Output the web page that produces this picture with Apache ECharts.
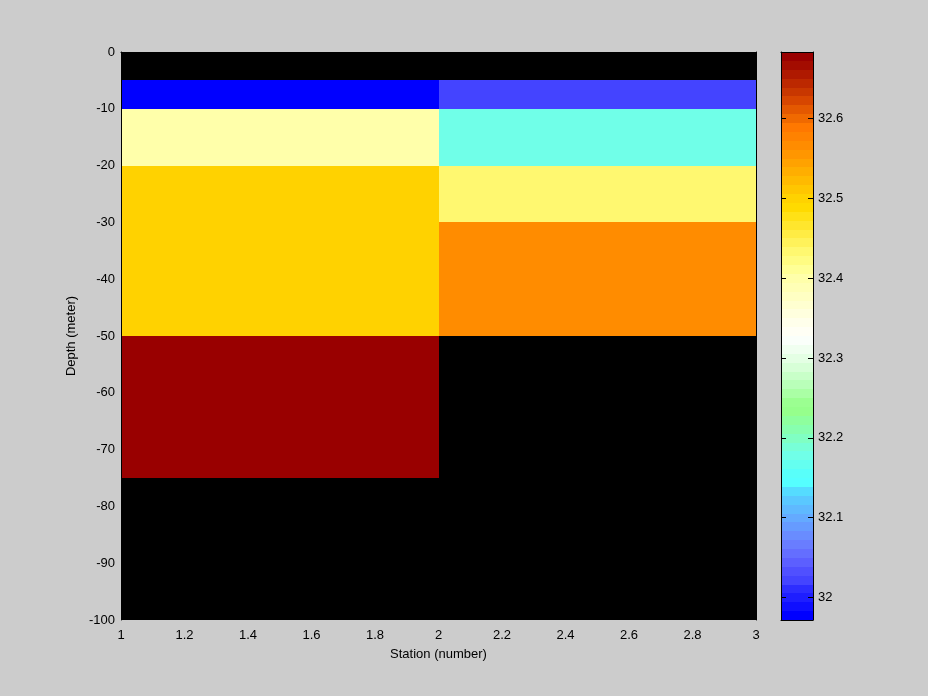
<!DOCTYPE html>
<html>
<head>
<meta charset="utf-8">
<script src="https://cdn.jsdelivr.net/npm/echarts@6/dist/echarts.min.js"></script>
<style>
html,body{margin:0;padding:0;background:#cccccc;}
#chart{width:928px;height:696px;}
</style>
</head>
<body>
<div id="chart"></div>
<script>
// ---- data ----
const stationEdges = [1, 2, 3];
const depthEdges = [0, -5, -10, -20, -30, -50, -75, -100];
// salinity per depth interval (null = no data)
const station1Salinity = [null, 31.972, 32.400, 32.500, 32.500, 32.683, null];
const station2Salinity = [null, 32.022, 32.178, 32.433, 32.566, null, null];
const xTickLabels = [1, 1.2, 1.4, 1.6, 1.8, 2, 2.2, 2.4, 2.6, 2.8, 3];
const colorbarTicks = [32, 32.1, 32.2, 32.3, 32.4, 32.5, 32.6];

// 64-entry colormap, bottom (low) to top (high)
const colormap = [
  '#0000ff','#0f0fff','#1e1eff','#2d2dff','#4444ff','#5050ff','#5c5fff','#646eff',
  '#697dff','#698cff','#669bff','#64aaff','#5fb9ff','#5ac8ff','#55dcff','#55ffff',
  '#58fffa','#64fff0','#70ffe8','#78ffd7','#80ffc3','#87ffaf','#8eff9e','#96ff8c',
  '#9bff91','#aaffa5','#b9ffb9','#c8ffc8','#d7ffd7','#e4ffe4','#f0fff0','#fafffa',
  '#fffff5','#ffffeb','#ffffde','#ffffd0','#ffffc3','#ffffb6','#ffffaa','#ffff96',
  '#fffc82','#fff870','#fff25a','#ffec44','#ffe62d','#ffe116','#ffda00','#ffd200',
  '#ffc600','#ffba00','#ffae00','#ffa200','#ff9600','#ff8c00','#ff8200','#ff7800',
  '#f06900','#e45800','#d74600','#c83700','#bc2800','#af1900','#a30c00','#990000'
];

// ---- derived ----
const allVals = station1Salinity.concat(station2Salinity).filter(v => v !== null);
const cmin = Math.min.apply(null, allVals);
const cmax = Math.max.apply(null, allVals);
const step = (cmax - cmin) / colormap.length;

const cells = [];
[station1Salinity, station2Salinity].forEach((arr, j) => {
  arr.forEach((v, k) => {
    if (v !== null) cells.push([stationEdges[j], stationEdges[j + 1], depthEdges[k], depthEdges[k + 1], v]);
  });
});
const bands = colormap.map((c, i) => [cmin + i * step, cmin + (i + 1) * step, i]);
const pieces = colormap.map((c, i) => {
  const p = { gte: cmin + i * step, color: c };
  if (i === colormap.length - 1) p.lte = cmax + 1e-9; else p.lt = cmin + (i + 1) * step;
  return p;
});

const font = { fontFamily: 'Liberation Sans', fontSize: 13, color: '#000' };

function snapRect(p0, p1) {
  const x0 = Math.round(Math.min(p0[0], p1[0])), x1 = Math.round(Math.max(p0[0], p1[0]));
  const y0 = Math.round(Math.min(p0[1], p1[1])), y1 = Math.round(Math.max(p0[1], p1[1]));
  return { x: x0, y: y0, width: x1 - x0, height: y1 - y0 };
}

const chart = echarts.init(document.getElementById('chart'), null, { renderer: 'canvas' });
chart.setOption({
  backgroundColor: '#cccccc',
  animation: false,
  grid: [
    { left: 121, top: 52, width: 635, height: 568, show: true, backgroundColor: '#000', borderWidth: 0 },
    { left: 781, top: 52, width: 32, height: 568, show: false }
  ],
  xAxis: [
    {
      gridIndex: 0, type: 'value', min: 1, max: 3, interval: 0.2, z: 10,
      name: 'Station (number)', nameLocation: 'middle', nameGap: 28,
      nameTextStyle: font,
      axisLine: { show: true, lineStyle: { color: '#000', width: 1 } },
      axisTick: { show: false },
      splitLine: { show: false },
      axisLabel: Object.assign({ margin: 9, customValues: xTickLabels, formatter: v => String(v) }, font)
    },
    {
      gridIndex: 1, type: 'value', min: 0, max: 1, position: 'bottom', z: 10,
      axisLine: { show: true, onZero: false, lineStyle: { color: '#000', width: 1 } },
      axisTick: { show: false }, axisLabel: { show: false }, splitLine: { show: false }
    },
    {
      gridIndex: 1, type: 'value', min: 0, max: 1, position: 'top', z: 10,
      axisLine: { show: true, onZero: false, lineStyle: { color: '#000', width: 1 } },
      axisTick: { show: false }, axisLabel: { show: false }, splitLine: { show: false }
    }
  ],
  yAxis: [
    {
      gridIndex: 0, type: 'value', min: -100, max: 0, interval: 10, z: 10,
      name: 'Depth (meter)', nameLocation: 'middle', nameGap: 41,
      nameTextStyle: font,
      axisLine: { show: true, onZero: false, lineStyle: { color: '#000', width: 1 } },
      axisTick: { show: false },
      splitLine: { show: false },
      axisLabel: Object.assign({ margin: 6 }, font)
    },
    {
      gridIndex: 0, type: 'value', min: -100, max: 0, position: 'right', z: 10,
      axisLine: { show: true, onZero: false, lineStyle: { color: '#000', width: 1 } },
      axisTick: { show: false }, axisLabel: { show: false }, splitLine: { show: false }
    },
    {
      gridIndex: 1, type: 'value', min: cmin, max: cmax, position: 'right', z: 10,
      axisLine: { show: true, onZero: false, lineStyle: { color: '#000', width: 1 } },
      axisTick: { show: true, inside: true, length: 5, customValues: colorbarTicks, lineStyle: { color: '#000' } },
      axisLabel: Object.assign({ margin: 5, customValues: colorbarTicks, formatter: v => String(Math.round(v * 10) / 10) }, font),
      splitLine: { show: false }
    },
    {
      gridIndex: 1, type: 'value', min: cmin, max: cmax, position: 'left', z: 10,
      axisLine: { show: true, onZero: false, lineStyle: { color: '#000', width: 1 } },
      axisTick: { show: true, inside: true, length: 5, customValues: colorbarTicks, lineStyle: { color: '#000' } },
      axisLabel: { show: false },
      splitLine: { show: false }
    }
  ],
  visualMap: {
    type: 'piecewise', show: false, seriesIndex: 0, dimension: 4, pieces: pieces
  },
  series: [
    {
      type: 'custom', xAxisIndex: 0, yAxisIndex: 0, data: cells,
      renderItem: function (params, api) {
        const p0 = api.coord([api.value(0), api.value(2)]);
        const p1 = api.coord([api.value(1), api.value(3)]);
        return { type: 'rect', shape: snapRect(p0, p1), style: { fill: api.visual('color') } };
      }
    },
    {
      type: 'custom', xAxisIndex: 1, yAxisIndex: 2, data: bands,
      renderItem: function (params, api) {
        const p0 = api.coord([0, api.value(1)]);
        const p1 = api.coord([1, api.value(0)]);
        return { type: 'rect', shape: snapRect(p0, p1), style: { fill: colormap[api.value(2)] } };
      }
    }
  ]
});
</script>
</body>
</html>
